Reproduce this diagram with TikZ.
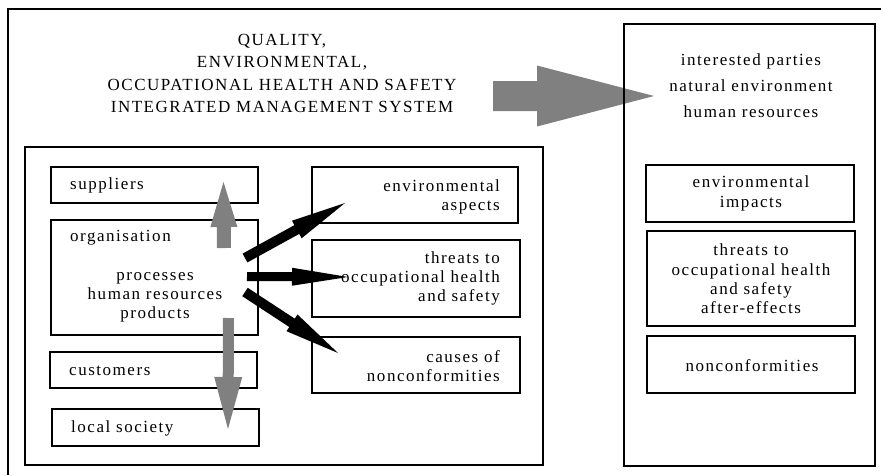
\documentclass[tikz,border=0pt]{standalone}
\usepackage{fontspec}
\setmainfont{Liberation Serif}[LetterSpace=9]
\usetikzlibrary{calc}
\tikzset{
  bigbox/.style={draw, line width=1.3pt, inner sep=0pt},
  smallbox/.style={draw, line width=2pt, inner sep=0pt},
  frameline/.style={draw, line width=1.5pt},
  txt/.style={inner sep=0pt, font=\fontsize{17}{19}\selectfont},
}
\definecolor{arrowgrey}{RGB}{128,128,128}
% tail, tip, shaft half width, head half width, head length, colour
\newcommand\blockarrow[6]{%
  \coordinate (ba-h) at ($(#2)!#5!(#1)$);
  \fill[#6] ($(#1)!#3!90:(#2)$) -- ($(ba-h)!#3!90:(#2)$) -- ($(ba-h)!#4!90:(#2)$)
    -- (#2) -- ($(ba-h)!#4!-90:(#2)$) -- ($(ba-h)!#3!-90:(#2)$)
    -- ($(#1)!#3!-90:(#2)$) -- cycle;
}
\begin{document}
\begin{tikzpicture}[x=1pt,y=-1pt]
\useasboundingbox (0,0) rectangle (881,475);
\fill[white] (0,0) rectangle (881,475);
% outer frame (only top and left visible)
\draw[frameline] (8,475) -- (8,9) -- (881,9);

% title
\node[txt, align=center, font=\fontsize{17}{22.3}\selectfont] (title) at (282,73.5)
  {QUALITY,\\ENVIRONMENTAL,\\OCCUPATIONAL HEALTH AND SAFETY\\INTEGRATED MANAGEMENT SYSTEM};

% big grey arrow
\coordinate (bgtail) at (493,96);
\coordinate (bgtip) at (654,96);
\blockarrow{bgtail}{bgtip}{15pt}{30.5pt}{117pt}{arrowgrey}

% right box
\node[bigbox, minimum width=251pt, minimum height=442pt] (rightbox) at (749.5,245) {};
\node[txt, align=center, font=\fontsize{17}{26}\selectfont] (parties) at (751,86)
  {interested parties\\natural environment\\human resources};
\node[smallbox, minimum width=208pt, minimum height=57pt] (impacts) at (750,193.5) {};
\node[txt, align=center, font=\fontsize{17}{20}\selectfont] (impactstxt) at (751,193.5)
  {environmental\\impacts};
\node[smallbox, minimum width=208pt, minimum height=95pt] (threatsR) at (751,278.5) {};
\node[txt, align=center, font=\fontsize{17}{19.3}\selectfont] (threatsRtxt) at (751,279)
  {threats to\\occupational health\\and safety\\after-effects};
\node[smallbox, minimum width=208pt, minimum height=57pt] (noncon) at (751,364.5) {};
\node[txt] (noncontxt) at (752,366) {nonconformities};

% left big box
\node[bigbox, minimum width=518pt, minimum height=318pt] (leftbox) at (284,306) {};

% left column boxes
\node[smallbox, minimum width=207pt, minimum height=36pt] (suppliers) at (154.5,185) {};
\node[smallbox, minimum width=207pt, minimum height=115pt] (org) at (154.5,277.5) {};
\node[smallbox, minimum width=207pt, minimum height=36pt] (customers) at (153.5,370) {};
\node[smallbox, minimum width=207pt, minimum height=37pt] (society) at (155.5,427.5) {};

% middle column boxes
\node[smallbox, minimum width=206pt, minimum height=56pt] (aspects) at (415,195) {};
\node[smallbox, minimum width=208pt, minimum height=77pt] (threatsL) at (416,278.5) {};
\node[smallbox, minimum width=208pt, minimum height=56pt] (causes) at (416,365) {};

% grey vertical arrows
\coordinate (uptail) at (224,248);
\coordinate (uptip) at (223.5,182);
\blockarrow{uptail}{uptip}{7pt}{13.5pt}{45pt}{arrowgrey}
\coordinate (dntail) at (228.5,318);
\coordinate (dntip) at (228,429);
\blockarrow{dntail}{dntip}{5.5pt}{14pt}{52pt}{arrowgrey}

% black arrows
\coordinate (b1tail) at (245,258);
\coordinate (b1tip) at (345,203);
\blockarrow{b1tail}{b1tip}{5pt}{10pt}{55pt}{black}
\coordinate (b2tail) at (247,276.5);
\coordinate (b2tip) at (348,277);
\blockarrow{b2tail}{b2tip}{4.5pt}{9pt}{56pt}{black}
\coordinate (b3tail) at (245,292);
\coordinate (b3tip) at (338,353);
\blockarrow{b3tail}{b3tip}{5pt}{10pt}{55pt}{black}

% left column texts
\node[txt, anchor=west] (supplierstxt) at (70,185) {suppliers};
\node[txt, anchor=west] (orgtxt) at (70,238) {organisation};
\node[txt, align=center] (processes) at (155,297.5) {processes\\human resources\\products};
\node[txt, anchor=west] (customerstxt) at (69,371) {customers};
\node[txt, anchor=west] (societytxt) at (71,428) {local society};

% middle column texts
\node[txt, align=right, anchor=east] (aspectstxt) at (500,196.5) {environmental\\aspects};
\node[txt, align=right, anchor=east] (threatsLtxt) at (500,278.5) {threats to\\occupational health\\and safety};
\node[txt, align=right, anchor=east] (causestxt) at (500,366) {causes of\\nonconformities};
\end{tikzpicture}
\end{document}
